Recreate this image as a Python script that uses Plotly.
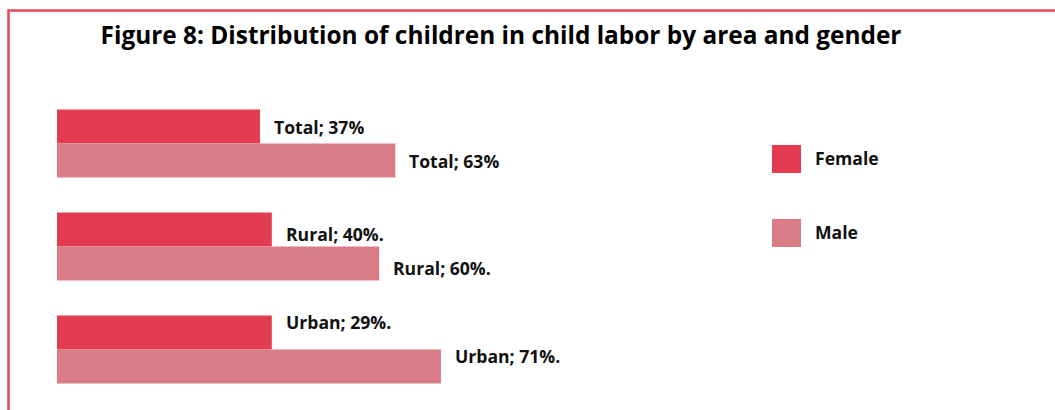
import plotly.graph_objects as go

# ---- data ----
areas = ["Total", "Rural", "Urban"]
female_values = [37.8, 40, 40]          # bar lengths as drawn
male_values = [63, 60, 71.5]
female_labels = ["Total; 37%", "Rural; 40%.", "Urban; 29%."]
male_labels = ["Total; 63%", "Rural; 60%.", "Urban; 71%."]
series_names = ["Female", "Male"]
series_colors = ["#E33C50", "#D97C86"]
title_text = "Figure 8: Distribution of children in child labor by area and gender"

W, H = 1055, 410
L, R, T, B = 57, 461, 92, 9
PW, PH = W - L - R, H - T - B

def px_x(px):
    return (px - L) / PW

def px_y(py):
    return (H - B - py) / PH

fig = go.Figure()
for name, vals, col in zip(series_names, [female_values, male_values], series_colors):
    fig.add_trace(go.Bar(
        y=areas, x=vals, name=name, orientation="h",
        marker=dict(color=col, line=dict(width=0)),
        showlegend=False, hoverinfo="skip",
    ))

FONT = "Open Sans"
font_lbl = dict(family=FONT, size=17.6, color="#111111")
down_px = {"Total": 0, "Rural": 4, "Urban": -11}
annotations = []
for vals, labels, off in [(female_values, female_labels, 17), (male_values, male_labels, -17)]:
    for a, v, t in zip(areas, vals, labels):
        annotations.append(dict(
            x=v, y=a, xref="x", yref="y", text="<b>%s</b>" % t,
            showarrow=False, xanchor="left", yanchor="middle",
            xshift=12, yshift=off - down_px[a],
            font=font_lbl,
        ))

# legend (manual, large squares)
shapes = []
leg_top = [145, 219]
for name, col, top in zip(series_names, series_colors, leg_top):
    shapes.append(dict(type="rect", xref="paper", yref="paper",
                       x0=px_x(772), x1=px_x(801), y0=px_y(top + 28), y1=px_y(top),
                       fillcolor=col, line=dict(width=0)))
    annotations.append(dict(x=px_x(813), y=px_y(top + 13), xref="paper", yref="paper",
                            text="<b>%s</b>" % name, showarrow=False,
                            xanchor="left", yanchor="middle", font=font_lbl))

# border
shapes.append(dict(type="rect", xref="paper", yref="paper",
                   x0=px_x(8.5), x1=px_x(1200), y0=px_y(600), y1=px_y(10.5),
                   line=dict(color="#E8485A", width=2.5), fillcolor="rgba(0,0,0,0)", layer="below"))

fig.update_layout(
    width=W, height=H,
    margin=dict(l=L, r=R, t=T, b=B, pad=0),
    paper_bgcolor="white", plot_bgcolor="white",
    barmode="group", bargap=0.34, bargroupgap=0,
    title=dict(text="<b>%s</b>" % title_text, xref="paper", x=px_x(501), xanchor="center",
               yref="container", y=1 - 35 / H, yanchor="middle",
               font=dict(family=FONT, size=24.4, color="#000000")),
    xaxis=dict(range=[0, 100], visible=False, fixedrange=True),
    yaxis=dict(autorange="reversed", visible=False, fixedrange=True),
    shapes=shapes, annotations=annotations,
)

fig.write_html("out.html", config={"displayModeBar": False})
